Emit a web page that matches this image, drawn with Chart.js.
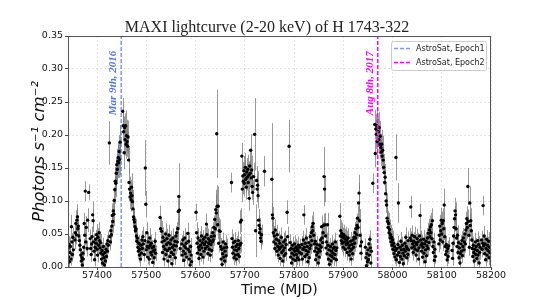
<!DOCTYPE html>
<html>
<head>
<meta charset="utf-8">
<script src="https://cdn.jsdelivr.net/npm/chart.js@4.4.1/dist/chart.umd.min.js"></script>
<style>
    html, body { margin: 0; padding: 0; background: #fff; }
</style>
</head>
<body>
<canvas id="maxiCanvas" width="545" height="300"></canvas>
<script>
// MAXI 2-20 keV daily rates of H 1743-322: [MJD, rate, error]
var quiescence2015 = [
    [57341,.028,.012],[57342,.015,.010],[57343,.034,.013],[57344,.008,.011],[57345,.022,.012],[57346,.031,.014],[57347,.012,.010],[57348,.061,.018],[57349,.038,.013],[57350,.019,.011],[57351,.045,.015],[57352,.026,.012],
    [57355,.041,.014],[57356,.052,.016],[57357,.066,.020],[57358,.049,.015],[57359,.071,.018],[57360,.076,.019],[57361,.058,.016],[57362,.062,.017],[57363,.047,.014],[57364,.040,.013],[57365,.033,.012],[57366,.026,.011],[57367,.018,.010],[57368,.009,.011],[57369,.014,.010],[57370,.003,.010],[57371,.021,.011],[57372,.012,.012],[57373,.030,.013],[57374,.066,.016],[57375,.048,.015],[57376,.115,.015],[57377,.038,.014],[57378,.060,.017],[57380,.028,.012],[57381,.071,.018],[57383,.113,.012],
    [57386,.043,.014],[57387,.028,.012],[57388,.019,.011],[57389,.035,.013],[57390,.046,.015],[57391,.079,.020],[57392,.070,.017],[57393,.038,.013],[57394,.024,.012],[57395,.011,.010],[57396,.030,.013],[57397,.042,.014],[57398,.036,.013],[57399,.049,.016],[57400,.027,.012],[57401,.018,.011],[57402,.045,.014],[57403,.033,.013],[57404,.052,.016],[57405,.040,.014],[57406,.029,.012],[57407,.037,.013],[57408,.021,.011],[57409,.012,.010],[57410,.025,.012],[57411,.006,.010],[57412,.019,.011],[57413,.031,.013],[57414,.014,.010],[57415,.003,.010],[57416,.022,.011],[57417,.009,.010],[57418,.027,.012],[57419,.016,.011],[57420,.035,.013],[57421,.024,.012],[57422,.040,.014],[57423,.033,.013]
];
var outburst2016a = [
    [57425,.188,.033],[57426,.046,.015],[57427,.038,.013],[57428,.055,.016],[57429,.049,.015],[57430,.062,.017],[57431,.078,.018],[57432,.069,.017],[57433,.085,.019],[57434,.080,.018],[57435,.101,.020],[57436,.117,.021],[57437,.130,.022],[57438,.127,.021],[57439,.142,.023],[57440,.155,.024],[57441,.148,.022],[57442,.160,.025],[57443,.166,.024],[57444,.158,.023],[57445,.175,.025],[57446,.163,.024],[57447,.189,.026],
    [57452,.236,.020],[57453,.214,.024],[57454,.205,.023],[57455,.173,.025],[57456,.211,.022],[57457,.193,.024],[57458,.214,.023],[57459,.186,.022],[57460,.199,.024],[57461,.190,.023],[57462,.183,.022],[57463,.197,.025],[57464,.162,.021],
    [57465,.128,.020],[57466,.118,.019],[57467,.106,.018],[57468,.112,.020],[57469,.102,.018],[57470,.121,.021],[57471,.108,.019],[57472,.099,.018],[57473,.088,.017],[57474,.076,.016],[57475,.072,.016],[57476,.068,.017],[57477,.061,.015],[57478,.055,.016],[57479,.058,.015],[57480,.047,.014],[57481,.039,.013],[57482,.044,.015],[57483,.030,.013],[57484,.024,.012],[57485,.036,.013],[57486,.018,.011],[57487,.027,.012],[57488,.012,.011],[57489,.033,.013],[57490,.021,.012],[57491,.041,.014],[57492,.028,.012],[57493,.046,.015],[57494,.035,.013],[57496,.019,.011],[57497,.040,.014],[57498,.150,.042],[57499,.095,.020]
];
var quiescence2016 = [
    [57500,.026,.012],[57501,.052,.016],[57502,.031,.013],[57503,.015,.011],[57504,.038,.014],[57505,.029,.012],[57506,.012,.010],[57507,.044,.015],[57508,.033,.013],[57509,.022,.011],[57510,.036,.013],[57511,.018,.011],[57512,.029,.012],[57513,.007,.010],[57514,.024,.012],[57515,.031,.013],[57516,.014,.011],[57517,.026,.012],[57518,.039,.014],[57519,.021,.012],
    [57528,.075,.018],[57529,.058,.017],[57531,.054,.016],[57532,.038,.014],[57533,.022,.012],[57534,.045,.015],[57535,.031,.013],[57536,.012,.011],[57537,.040,.014],[57538,.027,.012],[57539,.050,.016],[57540,.019,.011],[57541,.034,.013],[57542,.043,.015],[57543,.025,.012],[57544,.009,.010],[57545,.037,.014],[57546,.048,.016],[57547,.028,.012],[57548,.016,.011],[57549,.035,.013],[57550,.041,.014],[57551,.022,.012],[57552,.005,.010],[57553,.030,.013],[57554,.044,.015],[57555,.019,.011],[57556,.033,.013],[57557,.026,.012],[57558,.039,.014],[57559,.014,.011],[57560,.047,.015],[57561,.032,.013],[57562,.052,.016],[57563,.038,.014],[57564,.058,.017],[57565,.084,.020],[57566,.107,.050],[57567,.086,.022],[57569,.028,.012],
    [57572,.035,.013],[57573,.018,.011],[57574,.041,.014],[57575,.024,.012],[57576,.010,.010],[57577,.032,.013],[57578,.044,.015],[57579,.020,.011],[57580,.029,.012],[57581,.036,.013],[57582,.015,.011],[57584,.051,.016],[57585,.027,.012],[57586,.039,.014],[57587,.012,.010],[57588,.023,.012],[57589,.003,.010],[57590,.031,.013],[57591,.018,.011],[57592,.008,.010],
    [57601,.083,.013],[57602,.052,.016],[57603,.036,.013],[57604,.021,.011],[57605,.044,.015],[57606,.030,.013],[57607,.013,.011],[57608,.026,.012],[57609,.040,.014],[57610,.033,.013],[57611,.019,.011],[57612,.047,.015],[57613,.029,.012],[57614,.037,.013],[57615,.015,.011],[57616,.042,.014],[57617,.024,.012],[57618,.034,.013],[57619,.045,.015],[57620,.028,.012],[57621,.038,.014],[57622,.065,.016],[57623,.049,.015],[57624,.031,.013],[57625,.020,.011],[57626,.043,.015],[57627,.036,.013],[57628,.027,.012],[57629,.040,.014],[57630,.018,.011],[57631,.034,.013],[57632,.046,.015],[57633,.025,.012],[57634,.038,.014],[57635,.052,.016],[57636,.041,.014],[57637,.060,.018],[57638,.047,.015],[57639,.072,.020],[57640,.058,.017],[57641,.087,.030],[57642,.082,.028],[57643,.202,.067],[57644,.092,.032],[57645,.064,.022],[57646,.092,.030],[57647,.036,.014],[57648,.055,.020],
    [57650,.054,.018],[57651,.031,.013],[57652,.012,.011],[57653,.027,.012],[57654,.004,.010],[57655,.020,.011],[57656,.038,.014],[57657,.015,.011],[57658,.029,.012],[57659,.009,.010],[57660,.024,.012],[57661,.035,.013],[57662,.017,.011],[57663,.030,.013],
    [57673,.128,.015],[57674,.043,.014],[57675,.030,.013],[57676,.021,.011],[57677,.037,.013],[57678,.014,.011],[57679,.026,.012],[57680,.039,.014],[57681,.018,.011],[57682,.031,.013],[57683,.012,.010],[57684,.025,.012],[57685,.034,.013],[57686,.019,.011],[57687,.040,.014],[57688,.028,.012],[57689,.016,.011],[57690,.033,.013]
];
var outburst2016b = [
    [57691,.068,.018],[57692,.036,.014],[57693,.071,.018],[57694,.168,.020],[57695,.118,.020],[57696,.138,.021],[57697,.130,.020],[57698,.146,.022],[57699,.127,.020],[57700,.140,.021],[57701,.151,.022],[57702,.133,.020],[57703,.121,.019],[57704,.144,.021],[57705,.136,.020],[57706,.148,.022],[57707,.128,.020],[57708,.139,.021],[57709,.104,.019],[57710,.153,.023],[57711,.142,.021],[57712,.177,.024],[57713,.135,.020],[57714,.147,.022],[57715,.122,.020],[57716,.113,.019],[57718,.137,.021],[57720,.201,.055],[57722,.055,.040],[57724,.131,.022],[57725,.118,.020],[57726,.124,.021],[57727,.108,.019],[57728,.071,.017],[57729,.063,.016],[57730,.052,.015],[57731,.058,.016],[57732,.044,.014],[57733,.039,.013],[57734,.049,.015],[57740,.145,.023],
    [57755,.133,.085],[57756,.079,.018],[57757,.074,.017],[57758,.052,.015],[57759,.038,.013],[57760,.047,.015]
];
var quiescence2017 = [
    [57761,.028,.012],[57762,.056,.016],[57763,.035,.013],[57764,.042,.014],[57765,.024,.012],[57766,.049,.015],[57767,.031,.013],[57768,.018,.011],[57769,.040,.014],[57770,.027,.012],[57771,.036,.013],[57772,.013,.011],[57773,.030,.013],[57774,.045,.015],[57775,.022,.012],[57776,.032,.013],[57777,.009,.010],[57778,.025,.012],[57779,.038,.014],[57780,.017,.011],[57781,.029,.012],[57782,.041,.014],[57783,.020,.011],[57784,.034,.013],[57786,.083,.018],[57787,.046,.015],[57790,.183,.040],[57791,.026,.012],[57792,.037,.013],[57793,.015,.011],[57794,.028,.012],[57795,.006,.010],[57796,.021,.011],[57797,.033,.013],[57798,.012,.010],[57799,.027,.012],[57800,.018,.011],[57801,.035,.013],[57802,.024,.012],[57803,.010,.010],[57804,.030,.013],[57805,.019,.011],[57806,.028,.012],[57807,.014,.011],[57808,.025,.012],[57809,.033,.013],[57810,.011,.010],[57811,.022,.011],[57812,.030,.013],
    [57815,.020,.011],[57816,.034,.013],[57817,.012,.010],[57818,.027,.012],[57819,.041,.014],[57820,.079,.015],[57821,.030,.013],[57822,.016,.011],[57823,.036,.013],[57824,.025,.012],[57825,.044,.015],[57826,.019,.011],[57827,.031,.013],[57828,.008,.010],[57829,.023,.012],[57830,.037,.013],[57831,.014,.011],[57832,.028,.012],[57833,.046,.015],[57834,.033,.013],[57835,.052,.016],[57836,.040,.014],[57837,.061,.017],[57838,.055,.016],[57839,.066,.018],[57840,.048,.015],[57841,.035,.013],[57842,.024,.012],[57843,.039,.014],[57844,.011,.010],[57845,.029,.012],[57846,.018,.011],[57847,.034,.013],[57848,.022,.012],[57849,.006,.010],[57850,.027,.012],[57851,.015,.011],[57852,.033,.013],[57853,.024,.012],[57854,.041,.014],[57855,.030,.013],[57856,.061,.017],[57857,.044,.015],[57858,.037,.013],[57859,.052,.016],[57860,.063,.018],[57861,.137,.045],[57862,.118,.020],[57863,.064,.018],[57864,.047,.015],[57865,.029,.012],[57866,.038,.014],[57867,.020,.011],[57868,.064,.018],[57869,.033,.013],[57870,.012,.010],[57871,.026,.012],[57872,.004,.010],[57873,.018,.011],[57874,.031,.013],[57875,.009,.010],[57876,.024,.012],[57877,.016,.011],[57878,.035,.013],[57879,.021,.011],[57880,.028,.012],[57881,.013,.011],[57882,.030,.013],[57883,.019,.011],[57884,.038,.014],[57885,.025,.012],[57886,.011,.010],[57887,.029,.012],
    [57893,.077,.020],[57894,.047,.015],[57895,.055,.016],[57896,.040,.014],[57897,.051,.016],[57898,.036,.013],[57899,.045,.015],[57900,.030,.013],[57901,.049,.015],[57902,.038,.014],[57903,.043,.015],[57904,.027,.012],[57905,.046,.015],[57906,.034,.013],[57907,.041,.014],[57908,.022,.012],[57909,.037,.013],[57910,.044,.015],[57911,.029,.012],[57912,.018,.011],[57913,.033,.013],[57914,.024,.012],[57915,.039,.014],[57916,.012,.010],[57917,.027,.012],[57918,.034,.013],[57919,.020,.011],[57920,.041,.014],[57921,.030,.013],[57922,.045,.015],[57923,.036,.013],[57924,.052,.016],[57925,.044,.015],[57926,.058,.017],[57927,.049,.015],[57928,.063,.018],[57929,.074,.019],[57930,.060,.017],[57931,.097,.030],[57932,.112,.028],[57933,.070,.018],[57934,.048,.015],[57935,.032,.013],[57936,.021,.011],[57937,.038,.014],
    [57945,.030,.013],[57946,.014,.011],[57947,.002,.010],[57948,.020,.011],[57949,.008,.010],[57950,.026,.012],[57951,.011,.010],[57952,.035,.013],[57953,.018,.011],[57954,.042,.014],[57955,.029,.012],[57956,.006,.010],[57957,.024,.012],[57960,.127,.015]
];
var outburst2017 = [
    [57964,.216,.022],[57965,.172,.021],[57966,.209,.023],[57967,.201,.022],[57968,.214,.023],[57969,.190,.022],[57971,.205,.023],[57972,.193,.022],[57973,.211,.024],[57974,.186,.022],[57975,.198,.023],[57976,.181,.021],[57977,.174,.021],[57978,.186,.022],[57979,.168,.021],[57980,.177,.022],[57981,.162,.020],[57982,.151,.020],[57983,.143,.019],[57984,.128,.019],[57985,.136,.020],[57986,.111,.018],[57987,.100,.018],[57988,.094,.017],[57989,.074,.016],[57990,.069,.016],[57991,.060,.015],[57992,.066,.016],[57993,.052,.015],[57994,.057,.015],[57995,.044,.014],[57996,.049,.015],[57997,.038,.013],[57998,.045,.014],[57999,.033,.013],[58000,.041,.014],[58001,.027,.012],[58002,.036,.013],[58003,.020,.011],[58004,.031,.013],[58005,.015,.011],[58006,.025,.012],[58007,.166,.035],[58008,.011,.010],[58009,.028,.012],[58010,.018,.011],[58011,.034,.013],[58012,.097,.030],[58013,.022,.012],[58014,.007,.010],[58015,.030,.013],[58016,.016,.011],[58017,.039,.014],[58018,.026,.012],[58019,.012,.010],[58020,.033,.013],[58021,.021,.011],[58022,.005,.010],[58023,.027,.012],[58024,.017,.011],[58025,.036,.013],[58026,.024,.012],[58027,.045,.015],[58028,.031,.013],[58029,.014,.011],[58030,.028,.012],[58031,.019,.011],[58032,.040,.014],[58033,.026,.012]
];
var quiescence2018 = [
    [58036,.044,.015],[58037,.091,.017],[58038,.040,.014],[58039,.029,.012],[58040,.048,.015],[58041,.035,.013],[58042,.022,.012],[58043,.039,.014],[58044,.031,.013],[58045,.046,.015],[58046,.027,.012],[58047,.037,.013],[58048,.018,.011],[58049,.034,.013],[58050,.043,.015],[58051,.025,.012],[58052,.038,.014],[58053,.012,.010],[58054,.029,.012],[58055,.047,.015],[58056,.078,.018],[58057,.041,.014],[58058,.033,.013],[58059,.024,.012],[58060,.036,.013],[58061,.015,.011],[58062,.030,.013],[58063,.042,.014],[58064,.021,.011],[58065,.035,.013],[58066,.008,.010],[58067,.026,.012],[58068,.039,.014],[58069,.017,.011],[58070,.032,.013],[58071,.044,.015],[58072,.028,.012],[58073,.051,.016],[58074,.037,.013],[58075,.056,.017],[58076,.046,.015],[58077,.061,.017],[58078,.052,.016],[58079,.064,.018],[58080,.043,.015],[58081,.070,.019],[58082,.031,.013],[58083,.022,.012],[58084,.038,.014],[58085,.010,.010],[58086,.027,.012],[58087,.016,.011],
    [58094,.035,.013],[58095,.048,.015],[58096,.062,.017],[58097,.041,.014],[58098,.055,.016],[58099,.071,.019],[58100,.050,.016],[58101,.066,.018],[58102,.038,.014],[58103,.070,.019],[58104,.058,.017],[58105,.094,.025],[58106,.046,.015],[58107,.031,.013],[58108,.019,.011],[58109,.034,.013],[58110,.024,.012],[58111,.011,.010],[58112,.028,.012],[58113,.016,.011],[58114,.032,.013],
    [58121,.025,.012],[58122,.013,.011],[58123,.036,.013],[58124,.047,.015],[58125,.060,.017],[58126,.073,.019],[58127,.085,.020],[58128,.079,.019],[58129,.058,.017],[58130,.044,.015],[58131,.031,.013],[58132,.048,.015],[58133,.022,.012],[58134,.037,.013],[58135,.014,.011],[58136,.029,.012],[58137,.006,.010],[58138,.020,.011],[58139,.035,.013],[58140,.024,.012],[58141,.040,.014],[58142,.017,.011],[58143,.031,.013],[58144,.044,.015],[58145,.026,.012],[58146,.038,.014],[58147,.050,.016],[58148,.035,.013],[58149,.056,.017],[58150,.066,.018],[58151,.073,.019],[58152,.060,.017],[58153,.122,.028],[58154,.069,.018],[58155,.048,.015],[58156,.030,.013],[58157,.097,.025],[58158,.063,.018],[58159,.070,.019],[58160,.055,.016],[58161,.041,.014],[58162,.028,.012],[58163,.016,.011],[58164,.033,.013],[58165,.022,.012],[58166,.009,.010],[58167,.027,.012],[58168,.038,.014],[58169,.019,.011],[58170,.031,.013],[58171,.013,.011],[58172,.025,.012],[58173,.040,.014],[58174,.018,.011],[58175,.034,.013],[58176,.006,.010],[58177,.022,.011],[58178,.030,.013],
    [58181,.041,.014],[58182,.027,.012],[58183,.036,.013],[58184,.093,.015],[58185,.032,.013],[58186,.047,.015],[58187,.020,.011],[58188,.035,.013],[58189,.011,.010],[58190,.028,.012],[58191,.042,.014],[58192,.018,.011],[58193,.033,.013],[58194,.025,.012],[58195,.039,.014],[58196,.014,.011],[58197,.030,.013],[58198,.022,.012]
];

// AstroSat observations
var epochMjd = [57449, 57970];
var epochNames = ['AstroSat, Epoch1', 'AstroSat, Epoch2'];
var epochDates = ['Mar 9th, 2016', 'Aug 8th, 2017'];
var epochLineColors = ['rgba(70,110,245,0.7)', '#ff00ff'];
var epochTextColors = ['#5273e6', '#ff00ff'];

// axes
var mjdRange = [57341, 58200];
var rateRange = [0, 0.35];

var lightcurve = [].concat(quiescence2015, outburst2016a, quiescence2016, outburst2016b,
    quiescence2017, outburst2017, quiescence2018);

var errorBarPlugin = {
    id: 'errorBars',
    beforeDatasetsDraw: function (chart) {
        var ctx = chart.ctx, xs = chart.scales.x, ys = chart.scales.y, a = chart.chartArea;
        ctx.save();
        ctx.beginPath();
        ctx.rect(a.left, a.top, a.right - a.left, a.bottom - a.top);
        ctx.clip();
        ctx.strokeStyle = 'rgba(120,120,120,0.75)';
        ctx.lineWidth = 1;
        ctx.beginPath();
        lightcurve.forEach(function (p) {
            var px = Math.round(xs.getPixelForValue(p[0])) + 0.5;
            ctx.moveTo(px, ys.getPixelForValue(p[1] - p[2]));
            ctx.lineTo(px, ys.getPixelForValue(p[1] + p[2]));
        });
        ctx.stroke();
        ctx.restore();
    }
};

var decorPlugin = {
    id: 'decor',
    afterDraw: function (chart) {
        var ctx = chart.ctx, xs = chart.scales.x, ys = chart.scales.y, a = chart.chartArea;
        ctx.save();
        // frame
        ctx.strokeStyle = '#555';
        ctx.lineWidth = 1;
        ctx.strokeRect(a.left + 0.5, a.top + 0.5, a.right - a.left - 1, a.bottom - a.top);

        // title
        ctx.fillStyle = '#222';
        ctx.font = '16px "Liberation Serif", serif';
        ctx.textAlign = 'center';
        ctx.textBaseline = 'alphabetic';
        ctx.fillText('MAXI lightcurve (2-20 keV) of H 1743-322', 267, 32);

        // epoch date labels
        ctx.font = 'italic bold 11px "Liberation Serif", serif';
        ctx.textAlign = 'left';
        for (var i = 0; i < epochMjd.length; i++) {
            ctx.save();
            ctx.translate(xs.getPixelForValue(epochMjd[i]) - 5, ys.getPixelForValue(0.23));
            ctx.rotate(-Math.PI / 2);
            ctx.fillStyle = epochTextColors[i];
            ctx.fillText(epochDates[i], 0, 0);
            ctx.restore();
        }

        // legend
        var lx = 391, ly = 41.5, lw = 95, lh = 29;
        ctx.fillStyle = 'rgba(255,255,255,0.85)';
        ctx.strokeStyle = '#cccccc';
        ctx.beginPath();
        ctx.roundRect(lx + 0.5, ly, lw, lh, 2);
        ctx.fill();
        ctx.stroke();
        ctx.font = '8px "DejaVu Sans"';
        ctx.textBaseline = 'middle';
        for (var j = 0; j < epochNames.length; j++) {
            var rowY = ly + 7 + j * 14;
            ctx.strokeStyle = epochLineColors[j];
            ctx.lineWidth = 1.5;
            ctx.setLineDash([4, 2]);
            ctx.beginPath();
            ctx.moveTo(lx + 3, rowY);
            ctx.lineTo(lx + 19, rowY);
            ctx.stroke();
            ctx.setLineDash([]);
            ctx.fillStyle = '#222';
            ctx.fillText(epochNames[j], lx + 25, rowY);
        }
        ctx.restore();
    }
};

function maxiLightcurveGraph() {
    var ctx = document.getElementById('maxiCanvas').getContext('2d');
    var datasets = [];
    for (var i = 0; i < epochMjd.length; i++) {
        datasets.push({
            label: epochNames[i],
            data: [{x: epochMjd[i], y: rateRange[0]}, {x: epochMjd[i], y: rateRange[1]}],
            showLine: true,
            borderColor: epochLineColors[i],
            borderWidth: 1.5,
            borderDash: [4, 2],
            pointRadius: 0
        });
    }
    datasets.push({
        label: 'MAXI',
        data: lightcurve.map(function (p) { return {x: p[0], y: p[1]}; }),
        pointRadius: 1.7,
        pointBackgroundColor: '#000',
        pointBorderWidth: 0,
        showLine: false
    });

    new Chart(ctx, {
        type: 'scatter',
        data: {datasets: datasets},
        options: {
            responsive: false,
            animation: false,
            events: [],
            layout: {padding: {top: 36, right: 54, left: 0, bottom: 0}},
            plugins: {legend: {display: false}, tooltip: {enabled: false}},
            scales: {
                x: {
                    type: 'linear',
                    min: mjdRange[0],
                    max: mjdRange[1],
                    afterFit: function (s) { s.height = 33; },
                    ticks: {
                        stepSize: 100,
                        includeBounds: false,
                        autoSkip: false,
                        maxRotation: 0,
                        padding: 0,
                        color: '#111',
                        font: {family: 'DejaVu Sans', size: 9.5},
                        callback: function (v) { return String(v); }
                    },
                    grid: {color: '#dcdcdc', lineWidth: 0.8, tickLength: 3, tickColor: '#444', tickWidth: 1},
                    border: {dash: [2, 2], display: false},
                    title: {
                        display: true,
                        text: 'Time (MJD)',
                        color: '#111',
                        font: {family: 'DejaVu Sans', size: 14},
                        padding: {top: 0, bottom: 1}
                    }
                },
                y: {
                    min: rateRange[0],
                    max: rateRange[1],
                    afterFit: function (s) { s.width = 68; },
                    ticks: {
                        stepSize: 0.05,
                        padding: 2,
                        color: '#111',
                        font: {family: 'DejaVu Sans', size: 9.5},
                        callback: function (v) { return v.toFixed(2); }
                    },
                    grid: {color: '#dcdcdc', lineWidth: 0.8, tickLength: 3, tickColor: '#444', tickWidth: 1},
                    border: {dash: [2, 2], display: false},
                    title: {
                        display: true,
                        text: 'Photons s\u207B\u00B9 cm\u207B\u00B2',
                        color: '#111',
                        font: {family: 'DejaVu Sans', size: 16.5, style: 'italic'},
                        padding: {top: 30, bottom: 0}
                    }
                }
            }
        },
        plugins: [errorBarPlugin, decorPlugin]
    });
}

maxiLightcurveGraph();
</script>
</body>
</html>
